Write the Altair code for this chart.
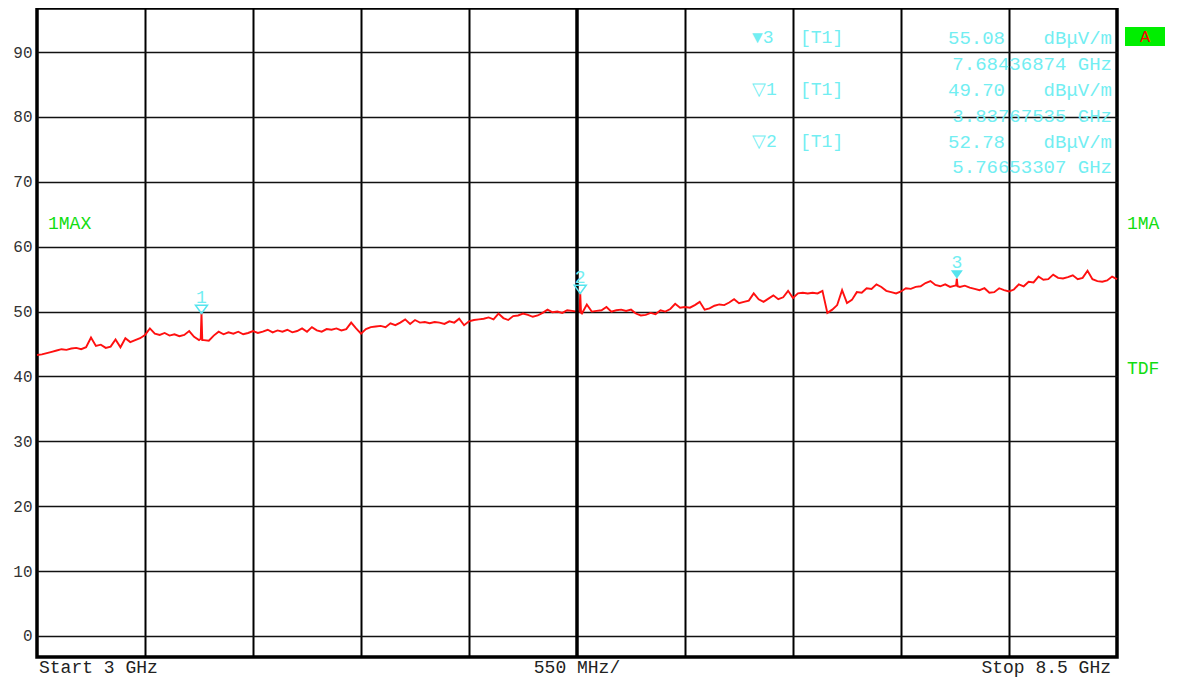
import altair as alt
import pandas as pd

# ---------------- data ----------------
start_ghz = 3.0
stop_ghz = 8.5
step_ghz = 0.025

levels = [
    43.3, 43.4, 43.6, 43.8, 44.0, 44.2, 44.1, 44.3, 44.4, 44.2,
    44.5, 46.0, 44.7, 44.9, 44.4, 44.6, 45.7, 44.5, 45.9, 45.3,
    45.6, 45.9, 46.4, 47.4, 46.6, 46.4, 46.7, 46.3, 46.5, 46.2,
    46.4, 47.0, 46.1, 45.6, 45.6, 45.5, 46.3, 46.9, 46.5, 46.8,
    46.6, 46.9, 46.5, 46.7, 47.0, 46.7, 46.9, 47.2, 46.8, 47.1,
    46.9, 47.2, 46.8, 47.0, 47.4, 46.9, 47.6, 47.1, 46.9, 47.3,
    47.2, 47.4, 47.1, 47.3, 48.3, 47.4, 46.6, 47.3, 47.6, 47.7,
    47.8, 47.6, 48.2, 47.9, 48.3, 48.8, 48.1, 48.7, 48.3, 48.4,
    48.2, 48.4, 48.3, 48.1, 48.5, 48.3, 48.9, 47.9, 48.5, 48.7,
    48.8, 48.9, 49.1, 48.8, 49.7, 49.0, 48.7, 49.3, 49.4, 49.7,
    49.5, 49.2, 49.4, 49.8, 50.3, 49.9, 50.0, 49.8, 50.2, 50.1,
    50.0, 49.7, 51.1, 50.0, 50.1, 50.2, 50.7, 50.0, 50.2, 50.3,
    50.1, 50.3, 49.7, 49.4, 49.5, 49.8, 49.6, 50.2, 50.0, 50.4,
    51.2, 50.6, 50.7, 50.6, 51.0, 51.5, 50.3, 50.5, 50.9, 51.1,
    51.0, 51.4, 51.9, 51.3, 51.5, 51.7, 52.8, 51.9, 51.5, 52.0,
    52.5, 51.9, 52.2, 53.2, 52.1, 52.8, 52.9, 52.8, 52.9, 52.8,
    53.2, 49.8, 50.3, 51.0, 53.3, 51.3, 51.8, 53.0, 52.9, 53.6,
    53.5, 54.2, 53.8, 53.2, 53.0, 52.8, 53.1, 53.6, 53.5, 53.8,
    53.9, 54.4, 54.7, 54.1, 53.9, 54.2, 53.8, 54.0, 53.8, 54.0,
    53.7, 53.5, 53.3, 53.6, 52.9, 53.0, 53.6, 53.3, 53.1, 53.4,
    54.2, 53.9, 54.6, 54.5, 55.4, 54.9, 55.0, 55.7, 55.2, 55.1,
    55.3, 55.6, 55.0, 55.2, 56.3, 55.0, 54.7, 54.6, 54.8, 55.4,
    55.0,
]
freqs = [round(start_ghz + step_ghz * i, 4) for i in range(len(levels))]

marker_ids = ["1", "2", "3"]
marker_freq = [3.83767535, 5.76653307, 7.68436874]
marker_level = [49.70, 52.78, 55.08]
marker_active = [False, False, True]
spike_left = [45.8, 50.0, 54.0]
spike_right = [45.6, 49.8, 53.9]
spike_halfwidth = 0.004

y_ticks = [0, 10, 20, 30, 40, 50, 60, 70, 80, 90]
x_grid = [3.55, 4.10, 4.65, 5.20, 6.30, 6.85, 7.40, 7.95]
center_ghz = 5.75
y_domain = [-3.25, 96.8]

table_rows = [
    ("\u25bc3", "[T1]", "55.08", "dB\u03bcV/m", "7.68436874 GHz"),
    ("\u25bd1", "[T1]", "49.70", "dB\u03bcV/m", "3.83767535 GHz"),
    ("\u25bd2", "[T1]", "52.78", "dB\u03bcV/m", "5.76653307 GHz"),
]

# ---------------- build tables ----------------
tf = list(freqs)
tl = list(levels)
for f, lv, l, r in zip(marker_freq, marker_level, spike_left, spike_right):
    tf += [f - spike_halfwidth, f, f + spike_halfwidth]
    tl += [l, lv, r]
trace = pd.DataFrame({"f": tf, "level": tl}).sort_values("f").reset_index(drop=True)

markers = pd.DataFrame({"id": marker_ids, "f": marker_freq, "level": marker_level,
                        "active": marker_active})

W, H = 1080, 649
CYAN_TXT = "#72eef2"
CYAN_MK = "#55e4ee"
GREEN = "#11dd11"
FONT = "Liberation Mono"

xs = alt.Scale(domain=[start_ghz, stop_ghz], nice=False, zero=False)
ys = alt.Scale(domain=y_domain, nice=False, zero=False)

x_enc = alt.X("f:Q", scale=xs,
              axis=alt.Axis(values=x_grid, grid=True, gridColor="black", gridWidth=2,
                            gridOpacity=1, labels=False, ticks=False, domain=False, title=None))
y_enc = alt.Y("level:Q", scale=ys,
              axis=alt.Axis(values=y_ticks, grid=True, gridColor="#111", gridWidth=1.6,
                            gridOpacity=1, ticks=False, domain=False, title=None,
                            labelFont=FONT, labelFontSize=16, labelColor="#333",
                            labelPadding=5))

line = alt.Chart(trace).mark_line(color="#ff1010", strokeWidth=1.9).encode(x=x_enc, y=y_enc)

center = alt.Chart(pd.DataFrame({"f": [center_ghz]})).mark_rule(
    color="black", strokeWidth=3.5).encode(x=alt.X("f:Q", scale=xs))

tri_path = "M -1 -1.4 L 1 -1.4 L 0 0 Z"
mk_open = alt.Chart(markers[~markers["active"]]).mark_point(
    shape=tri_path, size=144, filled=False, stroke=CYAN_MK, strokeWidth=1.5, opacity=1
).encode(x=alt.X("f:Q", scale=xs), y=alt.Y("level:Q", scale=ys))
mk_fill = alt.Chart(markers[markers["active"]]).mark_point(
    shape=tri_path, size=144, filled=True, fill=CYAN_MK, opacity=1
).encode(x=alt.X("f:Q", scale=xs), y=alt.Y("level:Q", scale=ys))
mk_lbl = alt.Chart(markers).mark_text(
    font=FONT, fontSize=18, color=CYAN_TXT, dy=-11, baseline="alphabetic", align="center"
).encode(x=alt.X("f:Q", scale=xs), y=alt.Y("level:Q", scale=ys), text="id:N")


def txt(s, x, y, color, size, align="left", baseline="middle"):
    return alt.Chart(pd.DataFrame({"t": [s]})).mark_text(
        align=align, baseline=baseline, font=FONT, fontSize=size, color=color
    ).encode(x=alt.value(x), y=alt.value(y), text="t:N")


layers = [line, center, mk_open, mk_fill, mk_lbl]

# marker table (top right)
row_y = [29.5, 55.5, 82, 107.5, 133.5, 158.5]
for i, (sym, tr, val, unit, fr) in enumerate(table_rows):
    y1 = row_y[2 * i]
    y2 = row_y[2 * i + 1]
    layers.append(txt(sym, 715, y1, CYAN_TXT, 18))
    layers.append(txt(tr, 763, y1, CYAN_TXT, 18))
    layers.append(txt(val, 968, y1, CYAN_TXT, 19, align="right"))
    layers.append(txt(unit, 1075, y1, CYAN_TXT, 19, align="right"))
    layers.append(txt(fr, 1075, y2, CYAN_TXT, 19, align="right"))

# side labels
layers.append(txt("1MAX", 11, 216, GREEN, 18))
layers.append(txt("1MA", 1090, 216, GREEN, 18))
layers.append(txt("TDF", 1090, 361, GREEN, 18))
box = alt.Chart(pd.DataFrame({"t": ["A"]})).mark_rect(color="#00ee00").encode(
    x=alt.value(1088), x2=alt.value(1128), y=alt.value(19), y2=alt.value(38))
layers.append(box)
layers.append(txt("A", 1108, 29, "#ff0000", 17, align="center"))

# bottom labels
layers.append(txt("Start 3 GHz", 2, 660, "#222", 18))
layers.append(txt("550 MHz/", 540, 660, "#222", 18, align="center"))
layers.append(txt("Stop 8.5 GHz", 1074, 660, "#222", 18, align="right"))

chart = alt.layer(*layers).properties(
    width=W, height=H,
    autosize=alt.AutoSizeParams(type="none"),
    padding={"left": 29, "top": 0, "right": 52, "bottom": 22},
    background="white",
).configure_view(stroke="black", strokeWidth=3.5)

chart.save("out.html", embed_options={"renderer": "svg", "actions": False})
